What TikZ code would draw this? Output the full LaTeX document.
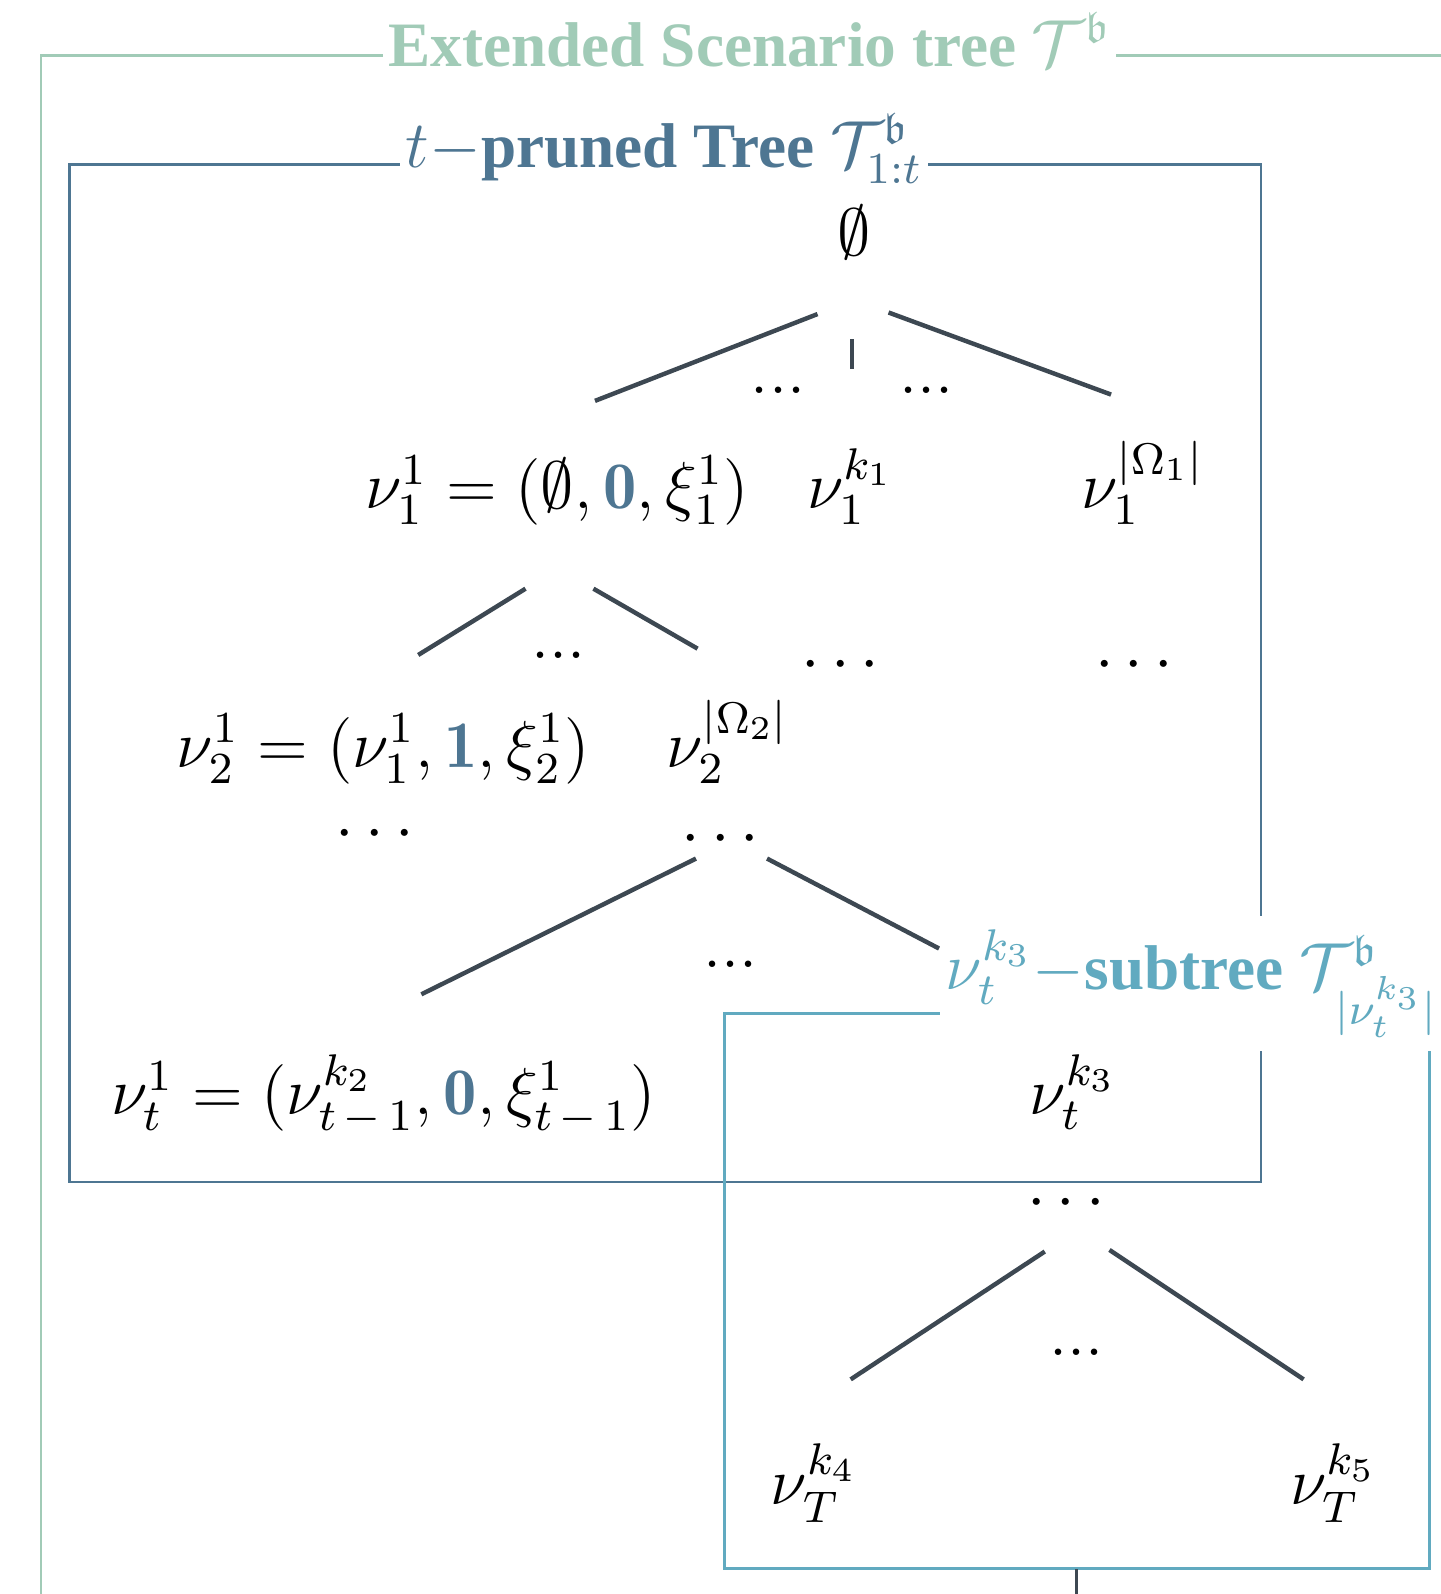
\documentclass[tikz,border=0pt]{standalone}
\usepackage{amsmath}
\usepackage{amssymb}
\usepackage{fontspec}
\newfontfamily\titelfont{Liberation Serif}[Scale=0.95]
\usepackage{tikz}
\usetikzlibrary{calc}
\definecolor{extgreen}{RGB}{161,203,183}
\definecolor{prunedblue}{RGB}{78,118,146}
\definecolor{subcyan}{RGB}{97,170,192}
\definecolor{astgrau}{RGB}{61,72,82}

\begin{document}
\begin{tikzpicture}[line width=0.5pt,
	kante/.style={astgrau, thick},
	knoten/.style={anchor=base, font=\large},
	punkte/.style={font=\large, inner sep=0pt},
	titel/.style={fill=white, font=\large\titelfont\bfseries, inner xsep=1pt, inner ysep=1.5pt}]

	\useasboundingbox (0,0) rectangle (9.13,-10.10);
	\clip (0,0) rectangle (9.13,-10.10);

	% Rahmen
	\draw[extgreen] (0.26,-0.35) rectangle (9.6,-10.6);
	\draw[prunedblue] (0.44,-1.04) rectangle (7.99,-7.49);
	\draw[subcyan] (4.59,-6.42) rectangle (9.06,-9.94);

	% Knoten
	\node[knoten] (root) at (5.41,-1.62) {$\emptyset$};
	\node[knoten] (n11) at (3.53,-3.22) {$\nu_1^1 = (\emptyset, \textcolor{prunedblue}{\mathbf{0}}, \xi_1^1)$};
	\node[knoten] (n1k) at (5.39,-3.22) {$\nu_1^{k_1}$};
	\node[knoten] (n1O) at (7.24,-3.22) {$\nu_1^{|\Omega_1|}$};
	\node[knoten] (n21) at (2.43,-4.86) {$\nu_2^1 = (\nu_1^1, \textcolor{prunedblue}{\mathbf{1}}, \xi_2^1)$};
	\node[knoten] (n2O) at (4.61,-4.86) {$\nu_2^{|\Omega_2|}$};
	\node[knoten] (nt1) at (2.43,-7.06) {$\nu_t^1 = (\nu_{t\,-\,1}^{k_2}, \textcolor{prunedblue}{\mathbf{0}}, \xi_{t\,-\,1}^1)$};
	\node[knoten] (ntk) at (6.80,-7.06) {$\nu_t^{k_3}$};
	\node[knoten] (nT4) at (5.16,-9.53) {$\nu_T^{k_4}$};
	\node[knoten] (nT5) at (8.45,-9.53) {$\nu_T^{k_5}$};

	% Punkte
	\node[punkte] (p0l) at (4.93,-2.47) {...};
	\node[punkte] (p0r) at (5.87,-2.47) {...};
	\node[punkte] (p1) at (3.54,-4.15) {...};
	\node[punkte] (c1k) at (5.36,-4.22) {$\cdots$};
	\node[punkte] (c1O) at (7.22,-4.22) {$\cdots$};
	\node[punkte] (c21) at (2.41,-5.29) {$\cdots$};
	\node[punkte] (c2O) at (4.60,-5.32) {$\cdots$};
	\node[punkte] (p2) at (4.63,-6.11) {...};
	\node[punkte] (ctk) at (6.79,-7.63) {$\cdots$};
	\node[punkte] (p3) at (6.82,-8.57) {...};

	% Kanten
	\coordinate (e1a) at (5.18,-1.99); \coordinate (e1b) at (3.77,-2.54);
	\coordinate (e2a) at (5.63,-1.98); \coordinate (e2b) at (7.04,-2.50);
	\coordinate (e3a) at (5.40,-2.15); \coordinate (e3b) at (5.40,-2.34);
	\coordinate (e4a) at (3.33,-3.73); \coordinate (e4b) at (2.65,-4.15);
	\coordinate (e5a) at (3.76,-3.73); \coordinate (e5b) at (4.42,-4.11);
	\coordinate (e6a) at (4.41,-5.44); \coordinate (e6b) at (2.67,-6.30);
	\coordinate (e7a) at (4.86,-5.44); \coordinate (e7b) at (5.95,-6.01);
	\coordinate (e8a) at (6.62,-7.93); \coordinate (e8b) at (5.39,-8.74);
	\coordinate (e9a) at (7.03,-7.92); \coordinate (e9b) at (8.26,-8.74);
	\foreach \i in {1,...,9}
		\draw[kante] (e\i a) -- (e\i b);

	\coordinate (weiter) at (6.82,-10.4);
	\draw[astgrau] (6.82,-9.94) -- (weiter);

	% Titel
	\node[titel, text=extgreen, anchor=base] (tExt) at (4.75,-0.42) {Extended Scenario tree $\mathcal{T}^{\mathfrak{b}}$};
	\node[titel, text=prunedblue, anchor=base] (tPrun) at (4.21,-1.06) {$t-$pruned Tree $\mathcal{T}^{\mathfrak{b}}_{1:t}$};
	\node[titel, text=subcyan, anchor=base west, inner ysep=2.5pt] (tSub) at (5.95,-6.27) {$\nu_t^{k_3}-$subtree $\mathcal{T}^{\mathfrak{b}}_{|\nu_t^{k_3}|}$};

\end{tikzpicture}
\end{document}
